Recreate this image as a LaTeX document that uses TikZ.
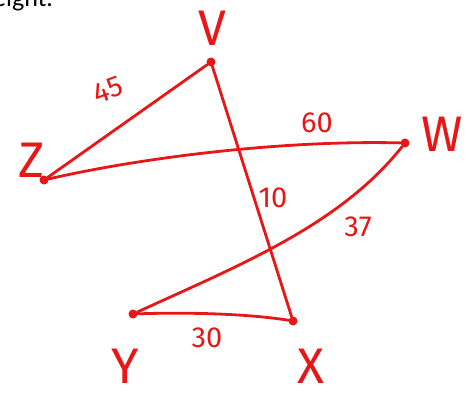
\documentclass[tikz,border=0pt]{standalone}
\usepackage{fontspec}
\newfontfamily\hand{Fira Sans}
\newfontfamily\calib{Carlito}
\definecolor{ink}{RGB}{232,22,22}
\begin{document}
\begin{tikzpicture}[x=1pt,y=-1pt,
  vert/.style={circle,fill=ink,inner sep=0pt,minimum size=9pt},
  edge/.style={draw=ink,line width=2.8pt,line cap=round},
  vlab/.style={text=ink,inner sep=0pt,font=\hand\fontsize{50}{50}\selectfont},
  wlab/.style={text=ink,inner sep=0pt,font=\hand\fontsize{29}{29}\selectfont}]
\useasboundingbox (0,0) rectangle (466,396);
\clip (0,0) rectangle (466,396);
\node[anchor=base west,inner sep=0pt,font=\calib\fontsize{26}{26}\selectfont] (cap) at (-7,7) {eight.};
\node[vert] (V) at (211,62) {};
\node[vert] (Z) at (44,180) {};
\node[vert] (W) at (405,143) {};
\node[vert] (Y) at (133,314) {};
\node[vert] (X) at (293,321) {};
\draw[edge] (Z) -- (V);
\draw[edge] (Z) .. controls (140,158) and (280,140) .. (W);
\draw[edge] (V) -- (X);
\draw[edge] (W) .. controls (340,225) and (240,265) .. (Y);
\draw[edge] (Y) .. controls (190,312) and (250,314) .. (X);
\node[vlab] (lV) at (212,28) {V};
\node[vlab] (lZ) at (32,160) {Z};
\node[vlab] (lW) at (442,134) {W};
\node[vlab] (lY) at (125,366) {Y};
\node[vlab] (lX) at (311,366) {X};
\node[wlab,rotate=20] (l45) at (108,90) {45};
\node[wlab] (l60) at (317,123) {60};
\node[wlab] (l10) at (273,198) {10};
\node[wlab] (l37) at (358,227) {37};
\node[wlab] (l30) at (207,338) {30};
\end{tikzpicture}
\end{document}
